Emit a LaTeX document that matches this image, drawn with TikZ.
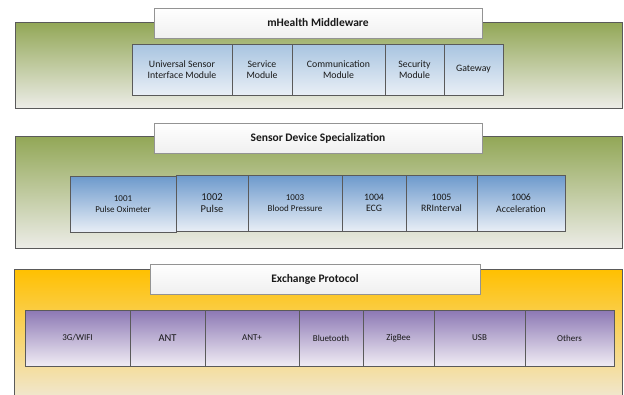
\documentclass[tikz,border=0pt]{standalone}
\usepackage{fontspec}
\setmainfont{Carlito}
\usetikzlibrary{shadows}
\definecolor{grtop}{RGB}{146,167,86}
\definecolor{grbot}{RGB}{236,236,231}
\definecolor{ortop}{RGB}{255,192,0}
\definecolor{orbot}{RGB}{240,233,218}
\definecolor{btopA}{RGB}{168,196,224}
\definecolor{bbotA}{RGB}{233,239,246}
\definecolor{btopB}{RGB}{108,153,204}
\definecolor{bbotB}{RGB}{232,238,246}
\definecolor{ptop}{RGB}{140,120,180}
\definecolor{pbot}{RGB}{240,236,244}
\definecolor{edge}{RGB}{90,90,90}
\definecolor{txt}{RGB}{25,25,25}
\tikzset{
  panel/.style={rectangle, draw=edge, line width=0.9pt, inner sep=0pt, outer sep=0pt,
    drop shadow={shadow xshift=0.8pt, shadow yshift=-0.8pt, opacity=0.35}},
  greenpanel/.style={panel, top color=grtop, bottom color=grbot},
  goldpanel/.style={panel, top color=ortop, bottom color=orbot},
  titlebox/.style={rectangle, draw=gray!85, line width=0.8pt, top color=white, bottom color=gray!12,
    minimum height=30pt, inner sep=0pt, outer sep=0pt, text=txt,
    font=\fontsize{11.5}{13}\selectfont\bfseries,
    drop shadow={shadow xshift=1pt, shadow yshift=-1pt, opacity=0.35}},
  cellbase/.style={rectangle, draw=edge, line width=0.8pt, inner sep=0pt, outer sep=0pt,
    align=center, text=txt, font=\fontsize{9.8}{11.5}\selectfont},
  cellA/.style={cellbase, top color=btopA, bottom color=bbotA, minimum height=51pt},
  cellB/.style={cellbase, top color=btopB, bottom color=bbotB, minimum height=56pt},
  cellC/.style={cellbase, top color=ptop, bottom color=pbot, minimum height=56pt},
  big/.style={font=\fontsize{10.5}{12}\selectfont},
  small/.style={font=\fontsize{9}{11}\selectfont}
}
\begin{document}
\begin{tikzpicture}[x=1pt,y=-1pt]
\useasboundingbox (0,0) rectangle (624,394);
\fill[white] (0,0) rectangle (624,394);
% panels
\node[greenpanel, minimum width=607pt, minimum height=86pt] (p1) at (318.5,65) {};
\node[greenpanel, minimum width=607pt, minimum height=112pt] (p2) at (318.5,192) {};
\node[goldpanel, minimum width=608pt, minimum height=135pt] (p3) at (318,336.5) {};
% titles
\node[titlebox, minimum width=328pt] (t1) at (318,23) {mHealth Middleware};
\node[titlebox, minimum width=328pt] (t2) at (318,138) {Sensor Device Specialization};
\node[titlebox, minimum width=330pt] (t3) at (315,279) {Exchange Protocol};
% middleware modules
\node[cellA, minimum width=100pt] (usim) at (182,69.5) {Universal Sensor\\Interface Module};
\node[cellA, minimum width=60pt] (serv) at (262,69.5) {Service\\Module};
\node[cellA, minimum width=93pt] (comm) at (338.5,69.5) {Communication\\Module};
\node[cellA, minimum width=59pt] (secu) at (414.5,69.5) {Security\\Module};
\node[cellA, minimum width=59pt] (gate) at (473.5,69.5) {Gateway};
% sensor devices
\node[cellB, small, minimum width=106pt] (d1) at (123,204) {1001\\Pulse Oximeter};
\node[cellB, big, minimum width=72pt] (d2) at (212,203) {1002\\Pulse};
\node[cellB, small, minimum width=94pt] (d3) at (295,203) {1003\\Blood Pressure};
\node[cellB, minimum width=64pt] (d4) at (374,203) {1004\\ECG};
\node[cellB, minimum width=71pt] (d5) at (441.5,203) {1005\\RRInterval};
\node[cellB, minimum width=88pt] (d6) at (521,203) {1006\\Acceleration};
% protocols
\node[cellC, small, minimum width=105pt] (e1) at (77.5,338) {3G/WIFI};
\node[cellC, big, minimum width=75pt] (e2) at (167.5,338) {ANT};
\node[cellC, small, minimum width=94pt] (e3) at (252,338) {ANT+};
\node[cellC, small, minimum width=64pt] (e4) at (331,338) {Bluetooth};
\node[cellC, small, minimum width=71pt] (e5) at (398.5,338) {ZigBee};
\node[cellC, small, minimum width=91pt] (e6) at (479.5,338) {USB};
\node[cellC, small, minimum width=89pt] (e7) at (569.5,338) {Others};
\end{tikzpicture}
\end{document}
